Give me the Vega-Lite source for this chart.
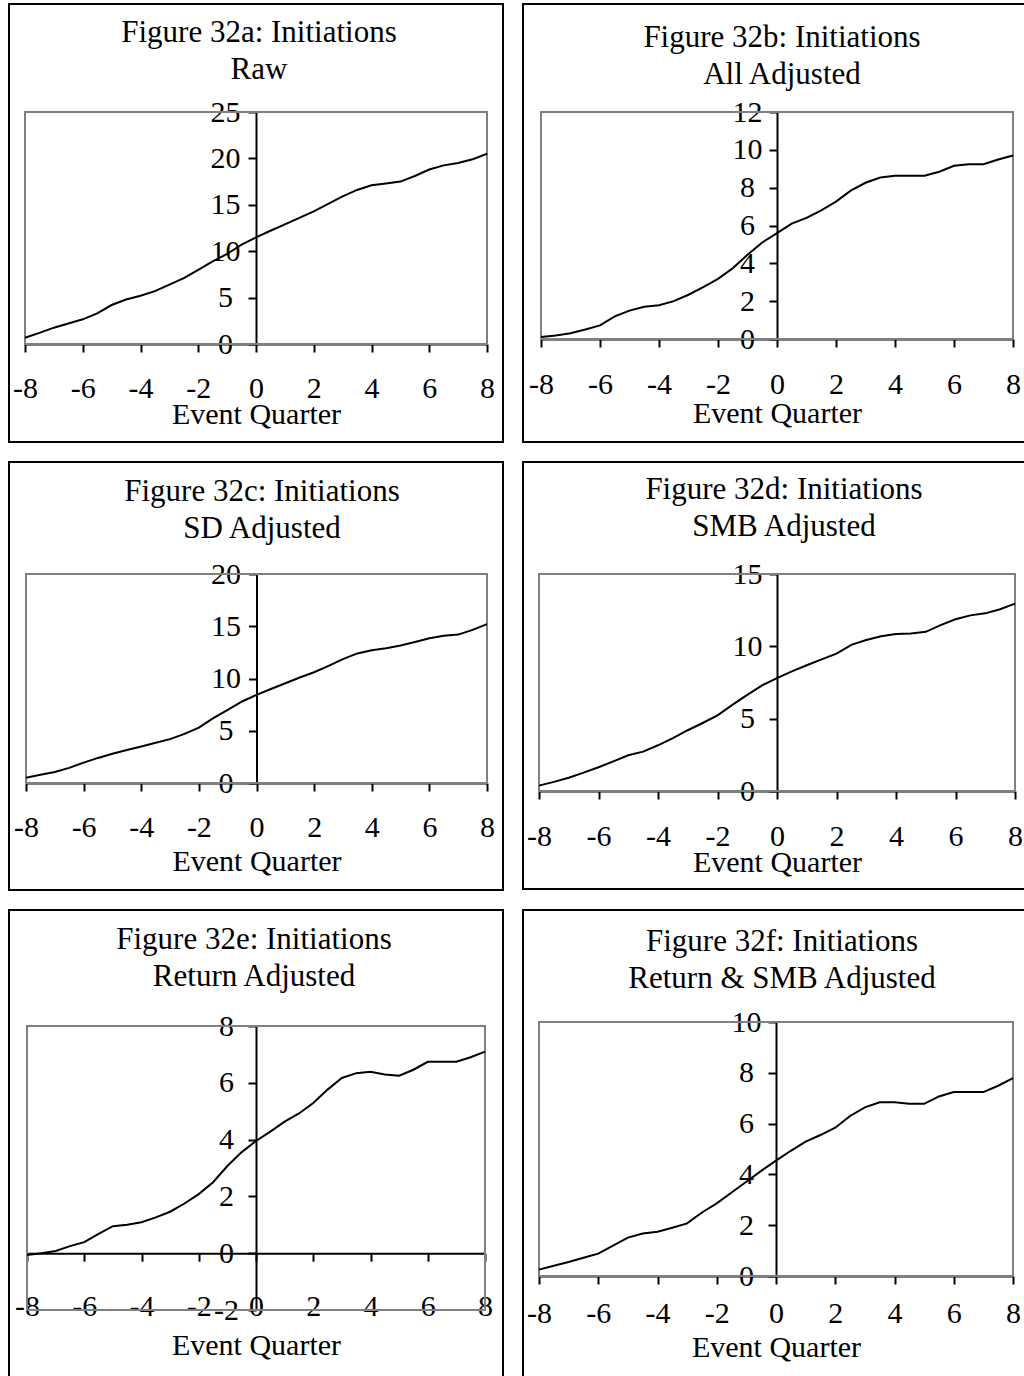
{
  "$schema": "https://vega.github.io/schema/vega-lite/v6.json",
  "background": "white",
  "padding": {"left": 8, "top": 3, "right": 0, "bottom": 0},
  "bounds": "flush",
  "columns": 2,
  "spacing": {"row": 20, "column": 20},
  "concat": [
    {
      "width": 494, "height": 438,
      "title": {"text": ["Figure 32a: Initiations", "Raw"], "offset": -82, "dx": 3},
      "layer": [
        {
          "data": {"values": [{}]},
          "mark": {"type": "rect", "filled": false, "color": "#808080", "strokeWidth": 2},
          "encoding": {
            "x": {"datum": -8, "type": "quantitative", "scale": {"domain": [-8, 8], "range": [16, 478], "nice": false, "zero": false}},
            "x2": {"datum": 8},
            "y": {"datum": 0, "type": "quantitative", "scale": {"domain": [0, 25], "range": [340, 108], "nice": false, "zero": false}},
            "y2": {"datum": 25}
          }
        },
        {
          "data": {"name": "raw"},
          "mark": {"type": "line", "color": "black", "strokeWidth": 2},
          "encoding": {
            "x": {"field": "q", "type": "quantitative",
              "scale": {"domain": [-8, 8], "range": [16, 478], "nice": false, "zero": false},
              "axis": {"values": [-8, -6, -4, -2, 0, 2, 4, 6, 8], "offset": -98, "labelPadding": 45, "title": "Event Quarter", "titleY": 79, "labelExpr": "replace(datum.label, '\u2212', '-')"}},
            "y": {"field": "v", "type": "quantitative",
              "scale": {"domain": [0, 25], "range": [340, 108], "nice": false, "zero": false},
              "axis": {"values": [0, 5, 10, 15, 20, 25], "offset": -247, "labelPadding": 23, "title": null}}
          }
        }
      ]
    },
    {
      "width": 502, "height": 438,
      "title": {"text": ["Figure 32b: Initiations", "All Adjusted"], "offset": -87, "dx": 8},
      "layer": [
        {
          "data": {"values": [{}]},
          "mark": {"type": "rect", "filled": false, "color": "#808080", "strokeWidth": 2},
          "encoding": {
            "x": {"datum": -8, "type": "quantitative", "scale": {"domain": [-8, 8], "range": [18, 490], "nice": false, "zero": false}},
            "x2": {"datum": 8},
            "y": {"datum": 0, "type": "quantitative", "scale": {"domain": [0, 12], "range": [335, 108], "nice": false, "zero": false}},
            "y2": {"datum": 12}
          }
        },
        {
          "data": {"name": "all"},
          "mark": {"type": "line", "color": "black", "strokeWidth": 2},
          "encoding": {
            "x": {"field": "q", "type": "quantitative",
              "scale": {"domain": [-8, 8], "range": [18, 490], "nice": false, "zero": false},
              "axis": {"values": [-8, -6, -4, -2, 0, 2, 4, 6, 8], "offset": -103, "labelPadding": 46, "title": "Event Quarter", "titleY": 83, "labelExpr": "replace(datum.label, '\u2212', '-')"}},
            "y": {"field": "v", "type": "quantitative",
              "scale": {"domain": [0, 12], "range": [335, 108], "nice": false, "zero": false},
              "axis": {"values": [0, 2, 4, 6, 8, 10, 12], "offset": -254, "labelPadding": 22, "title": null}}
          }
        }
      ]
    },
    {
      "width": 494, "height": 428,
      "title": {"text": ["Figure 32c: Initiations", "SD Adjusted"], "offset": -83, "dx": 6},
      "layer": [
        {
          "data": {"values": [{}]},
          "mark": {"type": "rect", "filled": false, "color": "#808080", "strokeWidth": 2},
          "encoding": {
            "x": {"datum": -8, "type": "quantitative", "scale": {"domain": [-8, 8], "range": [17, 478], "nice": false, "zero": false}},
            "x2": {"datum": 8},
            "y": {"datum": 0, "type": "quantitative", "scale": {"domain": [0, 20], "range": [321, 112], "nice": false, "zero": false}},
            "y2": {"datum": 20}
          }
        },
        {
          "data": {"name": "sd"},
          "mark": {"type": "line", "color": "black", "strokeWidth": 2},
          "encoding": {
            "x": {"field": "q", "type": "quantitative",
              "scale": {"domain": [-8, 8], "range": [17, 478], "nice": false, "zero": false},
              "axis": {"values": [-8, -6, -4, -2, 0, 2, 4, 6, 8], "offset": -107, "labelPadding": 45, "title": "Event Quarter", "titleY": 87, "labelExpr": "replace(datum.label, '\u2212', '-')"}},
            "y": {"field": "v", "type": "quantitative",
              "scale": {"domain": [0, 20], "range": [321, 112], "nice": false, "zero": false},
              "axis": {"values": [0, 5, 10, 15, 20], "offset": -247.5, "labelPadding": 23, "title": null}}
          }
        }
      ]
    },
    {
      "width": 502, "height": 427,
      "title": {"text": ["Figure 32d: Initiations", "SMB Adjusted"], "offset": -81, "dx": 10},
      "layer": [
        {
          "data": {"values": [{}]},
          "mark": {"type": "rect", "filled": false, "color": "#808080", "strokeWidth": 2},
          "encoding": {
            "x": {"datum": -8, "type": "quantitative", "scale": {"domain": [-8, 8], "range": [16, 492], "nice": false, "zero": false}},
            "x2": {"datum": 8},
            "y": {"datum": 0, "type": "quantitative", "scale": {"domain": [0, 15], "range": [329, 112], "nice": false, "zero": false}},
            "y2": {"datum": 15}
          }
        },
        {
          "data": {"name": "smb"},
          "mark": {"type": "line", "color": "black", "strokeWidth": 2},
          "encoding": {
            "x": {"field": "q", "type": "quantitative",
              "scale": {"domain": [-8, 8], "range": [16, 492], "nice": false, "zero": false},
              "axis": {"values": [-8, -6, -4, -2, 0, 2, 4, 6, 8], "offset": -98, "labelPadding": 46, "title": "Event Quarter", "titleY": 80, "labelExpr": "replace(datum.label, '\u2212', '-')"}},
            "y": {"field": "v", "type": "quantitative",
              "scale": {"domain": [0, 15], "range": [329, 112], "nice": false, "zero": false},
              "axis": {"values": [0, 5, 10, 15], "offset": -254, "labelPadding": 22, "title": null}}
          }
        }
      ]
    },
    {
      "width": 494, "height": 468,
      "title": {"text": ["Figure 32e: Initiations", "Return Adjusted"], "offset": -83, "dx": -2},
      "layer": [
        {
          "data": {"values": [{}]},
          "mark": {"type": "rect", "filled": false, "color": "#808080", "strokeWidth": 2},
          "encoding": {
            "x": {"datum": -8, "type": "quantitative", "scale": {"domain": [-8, 8], "range": [18, 476], "nice": false, "zero": false}},
            "x2": {"datum": 8},
            "y": {"datum": -2, "type": "quantitative", "scale": {"domain": [-2, 8], "range": [400, 116], "nice": false, "zero": false}},
            "y2": {"datum": 8}
          }
        },
        {
          "data": {"name": "ret"},
          "mark": {"type": "line", "color": "black", "strokeWidth": 2},
          "encoding": {
            "x": {"field": "q", "type": "quantitative",
              "scale": {"domain": [-8, 8], "range": [18, 476], "nice": false, "zero": false},
              "axis": {"values": [-8, -6, -4, -2, 0, 2, 4, 6, 8], "offset": -124.8, "labelPadding": 54, "title": "Event Quarter", "titleY": 101, "labelExpr": "replace(datum.label, '\u2212', '-')"}},
            "y": {"field": "v", "type": "quantitative",
              "scale": {"domain": [-2, 8], "range": [400, 116], "nice": false, "zero": false},
              "axis": {"values": [-2, 0, 2, 4, 6, 8], "offset": -247, "labelPadding": 22, "title": null, "labelExpr": "replace(datum.label, '\u2212', '-')"}}
          }
        }
      ]
    },
    {
      "width": 502, "height": 468,
      "title": {"text": ["Figure 32f: Initiations", "Return & SMB Adjusted"], "offset": -85, "dx": 8},
      "layer": [
        {
          "data": {"values": [{}]},
          "mark": {"type": "rect", "filled": false, "color": "#808080", "strokeWidth": 2},
          "encoding": {
            "x": {"datum": -8, "type": "quantitative", "scale": {"domain": [-8, 8], "range": [16, 490], "nice": false, "zero": false}},
            "x2": {"datum": 8},
            "y": {"datum": 0, "type": "quantitative", "scale": {"domain": [0, 10], "range": [366, 112], "nice": false, "zero": false}},
            "y2": {"datum": 10}
          }
        },
        {
          "data": {"name": "retsmb"},
          "mark": {"type": "line", "color": "black", "strokeWidth": 2},
          "encoding": {
            "x": {"field": "q", "type": "quantitative",
              "scale": {"domain": [-8, 8], "range": [16, 490], "nice": false, "zero": false},
              "axis": {"values": [-8, -6, -4, -2, 0, 2, 4, 6, 8], "offset": -102, "labelPadding": 38, "title": "Event Quarter", "titleY": 80, "labelExpr": "replace(datum.label, '\u2212', '-')"}},
            "y": {"field": "v", "type": "quantitative",
              "scale": {"domain": [0, 10], "range": [366, 112], "nice": false, "zero": false},
              "axis": {"values": [0, 2, 4, 6, 8, 10], "offset": -253, "labelPadding": 22, "title": null}}
          }
        }
      ]
    }
  ],
  "datasets": {
    "raw": [
      {"q": -8, "v": 0.68}, {"q": -7.5, "v": 1.2}, {"q": -7, "v": 1.76}, {"q": -6.5, "v": 2.2}, {"q": -6, "v": 2.66},
      {"q": -5.5, "v": 3.3}, {"q": -5, "v": 4.2}, {"q": -4.5, "v": 4.8}, {"q": -4, "v": 5.2}, {"q": -3.5, "v": 5.7},
      {"q": -3, "v": 6.4}, {"q": -2.5, "v": 7.1}, {"q": -2, "v": 8.0}, {"q": -1.5, "v": 8.9}, {"q": -1, "v": 9.7},
      {"q": -0.5, "v": 10.7}, {"q": 0, "v": 11.5}, {"q": 0.5, "v": 12.2}, {"q": 1, "v": 12.9}, {"q": 1.5, "v": 13.6},
      {"q": 2, "v": 14.3}, {"q": 2.5, "v": 15.1}, {"q": 3, "v": 15.9}, {"q": 3.5, "v": 16.6}, {"q": 4, "v": 17.1},
      {"q": 4.5, "v": 17.3}, {"q": 5, "v": 17.5}, {"q": 5.5, "v": 18.1}, {"q": 6, "v": 18.8}, {"q": 6.5, "v": 19.25},
      {"q": 7, "v": 19.5}, {"q": 7.5, "v": 19.9}, {"q": 8, "v": 20.5}
    ],
    "all": [
      {"q": -8, "v": 0.1}, {"q": -7.5, "v": 0.19}, {"q": -7, "v": 0.3}, {"q": -6.5, "v": 0.5}, {"q": -6, "v": 0.72},
      {"q": -5.5, "v": 1.2}, {"q": -5, "v": 1.5}, {"q": -4.5, "v": 1.7}, {"q": -4, "v": 1.78}, {"q": -3.5, "v": 2.0},
      {"q": -3, "v": 2.34}, {"q": -2.5, "v": 2.74}, {"q": -2, "v": 3.18}, {"q": -1.5, "v": 3.74}, {"q": -1, "v": 4.45},
      {"q": -0.5, "v": 5.1}, {"q": 0, "v": 5.6}, {"q": 0.5, "v": 6.1}, {"q": 1, "v": 6.4}, {"q": 1.5, "v": 6.8},
      {"q": 2, "v": 7.26}, {"q": 2.5, "v": 7.84}, {"q": 3, "v": 8.26}, {"q": 3.5, "v": 8.54}, {"q": 4, "v": 8.63},
      {"q": 4.5, "v": 8.63}, {"q": 5, "v": 8.63}, {"q": 5.5, "v": 8.84}, {"q": 6, "v": 9.16}, {"q": 6.5, "v": 9.24},
      {"q": 7, "v": 9.24}, {"q": 7.5, "v": 9.49}, {"q": 8, "v": 9.7}
    ],
    "sd": [
      {"q": -8, "v": 0.5}, {"q": -7.5, "v": 0.78}, {"q": -7, "v": 1.05}, {"q": -6.5, "v": 1.45}, {"q": -6, "v": 1.95},
      {"q": -5.5, "v": 2.4}, {"q": -5, "v": 2.8}, {"q": -4.5, "v": 3.15}, {"q": -4, "v": 3.5}, {"q": -3.5, "v": 3.85},
      {"q": -3, "v": 4.2}, {"q": -2.5, "v": 4.7}, {"q": -2, "v": 5.3}, {"q": -1.5, "v": 6.2}, {"q": -1, "v": 7.0},
      {"q": -0.5, "v": 7.8}, {"q": 0, "v": 8.44}, {"q": 0.5, "v": 9.0}, {"q": 1, "v": 9.55}, {"q": 1.5, "v": 10.1},
      {"q": 2, "v": 10.6}, {"q": 2.5, "v": 11.2}, {"q": 3, "v": 11.85}, {"q": 3.5, "v": 12.4}, {"q": 4, "v": 12.7},
      {"q": 4.5, "v": 12.9}, {"q": 5, "v": 13.15}, {"q": 5.5, "v": 13.5}, {"q": 6, "v": 13.85}, {"q": 6.5, "v": 14.1},
      {"q": 7, "v": 14.2}, {"q": 7.5, "v": 14.65}, {"q": 8, "v": 15.2}
    ],
    "smb": [
      {"q": -8, "v": 0.37}, {"q": -7.5, "v": 0.63}, {"q": -7, "v": 0.92}, {"q": -6.5, "v": 1.27}, {"q": -6, "v": 1.64},
      {"q": -5.5, "v": 2.05}, {"q": -5, "v": 2.47}, {"q": -4.5, "v": 2.72}, {"q": -4, "v": 3.16}, {"q": -3.5, "v": 3.65},
      {"q": -3, "v": 4.2}, {"q": -2.5, "v": 4.7}, {"q": -2, "v": 5.23}, {"q": -1.5, "v": 5.95}, {"q": -1, "v": 6.64},
      {"q": -0.5, "v": 7.3}, {"q": 0, "v": 7.8}, {"q": 0.5, "v": 8.27}, {"q": 1, "v": 8.69}, {"q": 1.5, "v": 9.1},
      {"q": 2, "v": 9.5}, {"q": 2.5, "v": 10.1}, {"q": 3, "v": 10.44}, {"q": 3.5, "v": 10.7}, {"q": 4, "v": 10.85},
      {"q": 4.5, "v": 10.88}, {"q": 5, "v": 11.0}, {"q": 5.5, "v": 11.47}, {"q": 6, "v": 11.87}, {"q": 6.5, "v": 12.14},
      {"q": 7, "v": 12.28}, {"q": 7.5, "v": 12.56}, {"q": 8, "v": 12.95}
    ],
    "ret": [
      {"q": -8, "v": -0.06}, {"q": -7.5, "v": 0.0}, {"q": -7, "v": 0.08}, {"q": -6.5, "v": 0.25}, {"q": -6, "v": 0.39},
      {"q": -5.5, "v": 0.68}, {"q": -5, "v": 0.95}, {"q": -4.5, "v": 1.0}, {"q": -4, "v": 1.09}, {"q": -3.5, "v": 1.26},
      {"q": -3, "v": 1.46}, {"q": -2.5, "v": 1.75}, {"q": -2, "v": 2.08}, {"q": -1.5, "v": 2.5}, {"q": -1, "v": 3.07},
      {"q": -0.5, "v": 3.56}, {"q": 0, "v": 3.95}, {"q": 0.5, "v": 4.28}, {"q": 1, "v": 4.63}, {"q": 1.5, "v": 4.92},
      {"q": 2, "v": 5.29}, {"q": 2.5, "v": 5.76}, {"q": 3, "v": 6.17}, {"q": 3.5, "v": 6.34}, {"q": 4, "v": 6.39},
      {"q": 4.5, "v": 6.29}, {"q": 5, "v": 6.25}, {"q": 5.5, "v": 6.46}, {"q": 6, "v": 6.74}, {"q": 6.5, "v": 6.74},
      {"q": 7, "v": 6.74}, {"q": 7.5, "v": 6.9}, {"q": 8, "v": 7.1}
    ],
    "retsmb": [
      {"q": -8, "v": 0.25}, {"q": -7.5, "v": 0.4}, {"q": -7, "v": 0.55}, {"q": -6.5, "v": 0.72}, {"q": -6, "v": 0.88},
      {"q": -5.5, "v": 1.2}, {"q": -5, "v": 1.51}, {"q": -4.5, "v": 1.67}, {"q": -4, "v": 1.74}, {"q": -3.5, "v": 1.9},
      {"q": -3, "v": 2.07}, {"q": -2.5, "v": 2.5}, {"q": -2, "v": 2.86}, {"q": -1.5, "v": 3.29}, {"q": -1, "v": 3.71},
      {"q": -0.5, "v": 4.14}, {"q": 0, "v": 4.54}, {"q": 0.5, "v": 4.93}, {"q": 1, "v": 5.29}, {"q": 1.5, "v": 5.55},
      {"q": 2, "v": 5.84}, {"q": 2.5, "v": 6.3}, {"q": 3, "v": 6.64}, {"q": 3.5, "v": 6.84}, {"q": 4, "v": 6.84},
      {"q": 4.5, "v": 6.78}, {"q": 5, "v": 6.78}, {"q": 5.5, "v": 7.07}, {"q": 6, "v": 7.24}, {"q": 6.5, "v": 7.24},
      {"q": 7, "v": 7.24}, {"q": 7.5, "v": 7.49}, {"q": 8, "v": 7.79}
    ]
  },
  "config": {
    "font": "Liberation Serif",
    "view": {"stroke": "black", "strokeWidth": 2, "fill": "white"},
    "title": {"font": "Liberation Serif", "fontSize": 31, "fontWeight": "normal", "color": "black", "anchor": "middle", "frame": "group", "baseline": "alphabetic", "lineHeight": 37.5},
    "axis": {
      "domainColor": "black", "domainWidth": 2, "tickColor": "black", "tickWidth": 2, "tickSize": 8,
      "labelFont": "Liberation Serif", "labelFontSize": 30, "labelColor": "black",
      "titleFont": "Liberation Serif", "titleFontSize": 30, "titleFontWeight": "normal", "titleColor": "black",
      "grid": false, "labelFlush": false, "labelOverlap": false, "labelBound": false, "zindex": 1
    },
    "axisX": {"labelBaseline": "alphabetic", "titleBaseline": "alphabetic"},
    "axisY": {"labelAlign": "center", "labelBaseline": "middle"}
  }
}
